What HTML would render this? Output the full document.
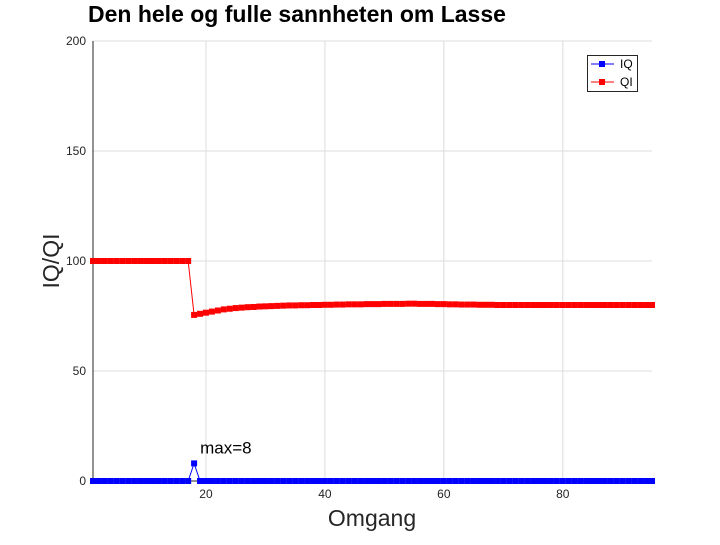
<!DOCTYPE html>
<html><head><meta charset="utf-8"><style>
body{margin:0;background:#fff;}
svg text{font-family:"Liberation Sans",sans-serif;}
</style></head><body>
<svg id="chart" width="720" height="540" xmlns="http://www.w3.org/2000/svg"></svg>
<script>
const xTicks=[20,40,60,80];
const yTicks=[0,50,100,150,200];
const iqValues=[0,0,0,0,0,0,0,0,0,0,0,0,0,0,0,0,0,8,0,0,0,0,0,0,0,0,0,0,0,0,0,0,0,0,0,0,0,0,0,0,0,0,0,0,0,0,0,0,0,0,0,0,0,0,0,0,0,0,0,0,0,0,0,0,0,0,0,0,0,0,0,0,0,0,0,0,0,0,0,0,0,0,0,0,0,0,0,0,0,0,0,0,0,0,0];
const qiValues=[100,100,100,100,100,100,100,100,100,100,100,100,100,100,100,100,100,75.5,76,76.5,77,77.5,78,78.3,78.6,78.8,79,79.1,79.3,79.4,79.5,79.6,79.7,79.8,79.8,79.9,79.9,80,80,80.1,80.1,80.2,80.2,80.3,80.3,80.3,80.4,80.4,80.4,80.5,80.5,80.5,80.5,80.6,80.6,80.5,80.5,80.5,80.4,80.4,80.3,80.3,80.2,80.2,80.2,80.1,80.1,80.1,80,80,80,80,80,80,80,80,80,80,80,80,80,80,80,80,80,80,80,80,80,80,80,80,80,80,80];
const L=93,R=652,T=41,B=481,xMin=1,xMax=95,yMax=200;
const sx=v=>L+(v-xMin)/(xMax-xMin)*(R-L);
const sy=v=>B-v/yMax*(B-T);
const svg=document.getElementById('chart');
const NS='http://www.w3.org/2000/svg';
function mk(tag,attrs,parent){const e=document.createElementNS(NS,tag);for(const k in attrs)e.setAttribute(k,attrs[k]);(parent||svg).appendChild(e);return e;}
xTicks.forEach(t=>{
 const g=mk('line',{x1:sx(t),x2:sx(t),y1:T,y2:B,stroke:'#dcdcdc','stroke-width':1});
 
 
 const lb=mk('text',{x:sx(t),y:B+17,'text-anchor':'middle','font-size':12,fill:'#262626'});lb.textContent=t;
 
 
});
yTicks.forEach(t=>{
 const g=mk('line',{x1:L,x2:R,y1:sy(t),y2:sy(t),stroke:'#dcdcdc','stroke-width':1});
 
 
 const lb=mk('text',{x:L-7,y:sy(t)+4,'text-anchor':'end','font-size':12,fill:'#262626'});lb.textContent=t;
 
 
});
const ax=mk('path',{d:`M${L},${T}V${B}H${R}`,fill:'none',stroke:'#262626','stroke-width':1});


function series(vals,color,name){
 const pts=vals.map((v,i)=>[sx(i+1),sy(v)]);
 const p=mk('polyline',{points:pts.map(p=>p.join(',')).join(' '),fill:'none',stroke:color,'stroke-width':1});
 
 
 pts.forEach(q=>{const r=mk('rect',{x:q[0]-3,y:q[1]-3,width:6,height:6,fill:color});
  
  });
}
series(qiValues,'#ff0000','qi');
series(iqValues,'#0000ff','iq');
const mi=iqValues.indexOf(Math.max(...iqValues));
const ml=mk('text',{x:sx(mi+1)+6,y:sy(iqValues[mi])-10,'font-size':17,fill:'#000'});ml.textContent='max='+iqValues[mi];


</script>
<svg style="position:absolute;left:0;top:0" width="720" height="540">
<text x="88" y="22" font-size="23" font-weight="bold" fill="#000">Den hele og fulle sannheten om Lasse</text>
<text x="372" y="526" text-anchor="middle" font-size="23" fill="#262626">Omgang</text>
<text transform="translate(59,261) rotate(-90)" text-anchor="middle" font-size="23" fill="#262626">IQ/QI</text>
<g>
<rect x="587.5" y="55.5" width="50" height="36" fill="#fff" stroke="#262626"/>
<line x1="591" x2="614" y1="64" y2="64" stroke="#0000ff"/>
<rect x="599" y="61" width="6" height="6" fill="#0000ff"/>
<text x="620" y="68" font-size="12" fill="#000">IQ</text>
<line x1="591" x2="614" y1="82" y2="82" stroke="#ff0000"/>
<rect x="599" y="79" width="6" height="6" fill="#ff0000"/>
<text x="620" y="86" font-size="12" fill="#000">QI</text>
</g>
</svg>
</body></html>
